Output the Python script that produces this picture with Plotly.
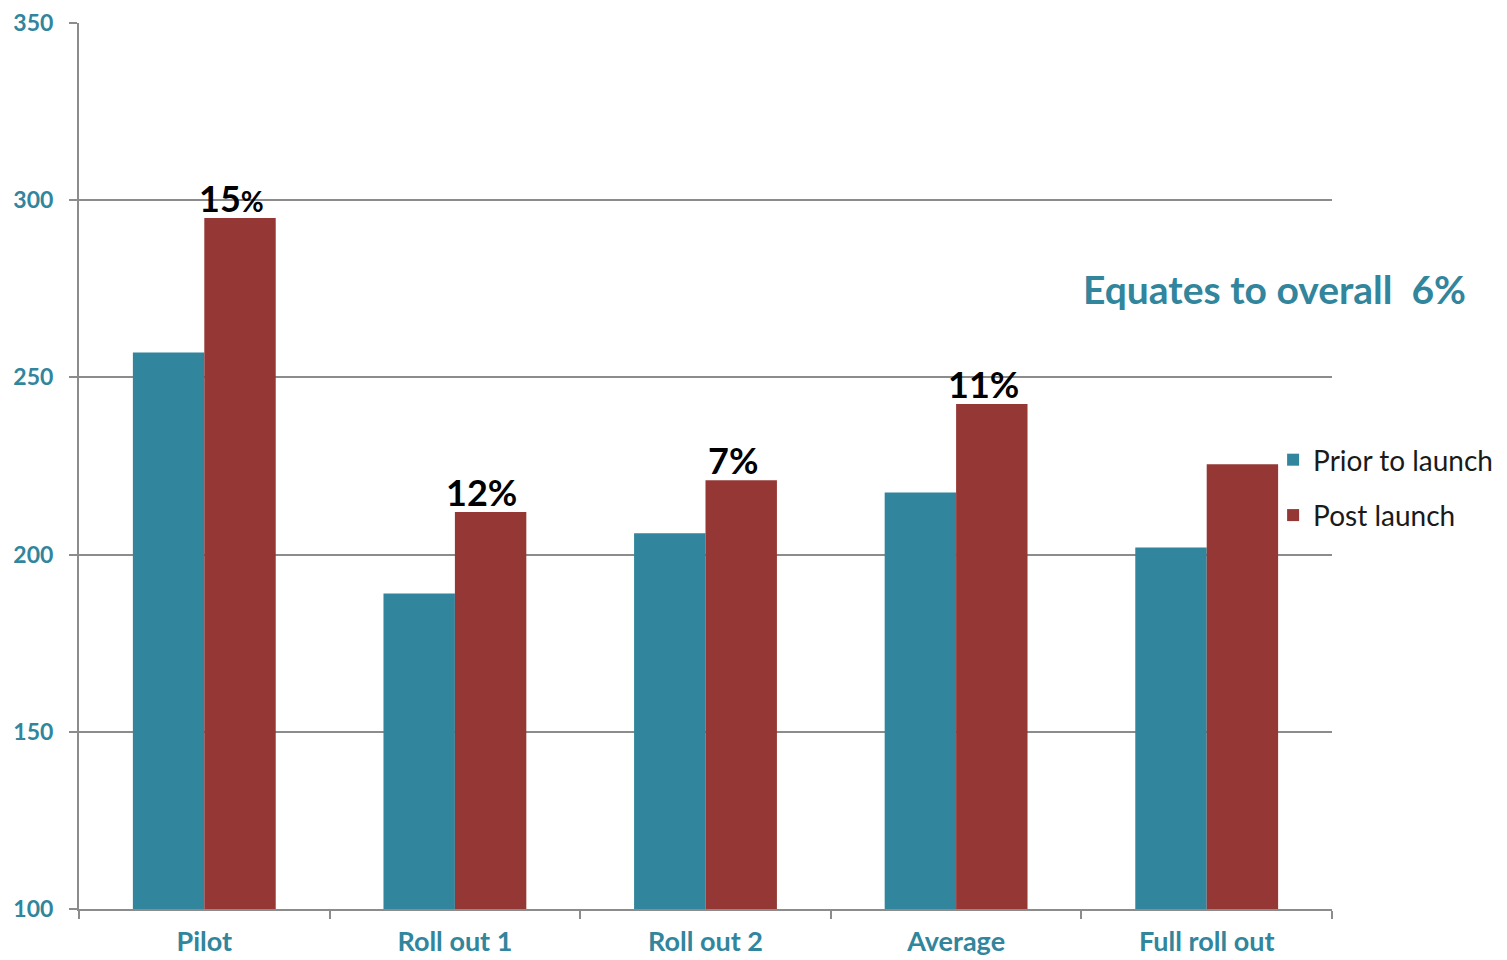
import plotly.graph_objects as go

categories = ["Pilot", "Roll out 1", "Roll out 2", "Average", "Full roll out"]
prior = [257, 189, 206, 217.5, 202]
post = [295, 212, 221, 242.5, 225.5]
pct_labels = ["15<span style='font-size:28px'>%</span>", "12%", "7%", "11%", None]
y_ticks = [100, 150, 200, 250, 300, 350]

TEAL = "#31859C"
RED = "#953735"
GRID = "#8C8C8C"
FONT = "Lato"

fig = go.Figure()
fig.add_trace(go.Bar(name="Prior to launch", x=categories, y=prior, marker_color=TEAL,
                     marker_line_width=0, legendgroup="a"))
fig.add_trace(go.Bar(name="Post launch", x=categories, y=post, marker_color=RED,
                     marker_line_width=0, legendgroup="b"))

for cat, v, lab in zip(categories, post, pct_labels):
    if lab:
        fig.add_annotation(x=cat, y=v, text=lab, showarrow=False,
                           xshift=27, yanchor="bottom", yshift=-4,
                           font=dict(family=FONT, size=36, color="black", weight="bold"))

fig.add_annotation(xref="paper", yref="paper", x=0.9545, y=0.70,
                   text="Equates to overall  6%", showarrow=False,
                   xanchor="center", yanchor="middle",
                   font=dict(family=FONT, size=39, color=TEAL, weight="bold"))

fig.update_layout(
    width=1499, height=952,
    margin=dict(l=71, r=175, t=15, b=51, autoexpand=False),
    barmode="group", bargap=0.43, bargroupgap=0,
    plot_bgcolor="white", paper_bgcolor="white",
    showlegend=True,
    legend=dict(x=0.953, xanchor="left", y=0.535, yanchor="top",
                font=dict(family=FONT, size=28, color="#1a1a1a"),
                tracegroupgap=16, itemwidth=30, bgcolor="rgba(0,0,0,0)"),
    font=dict(family=FONT),
)
fig.update_xaxes(
    type="category", showline=True, linecolor=GRID, linewidth=2,
    ticks="outside", tickson="boundaries", ticklen=8, tickcolor=GRID, tickwidth=2,
    showgrid=False, ticklabelstandoff=8,
    tickfont=dict(family=FONT, size=27, color=TEAL, weight="bold"),
)
fig.update_yaxes(
    range=[100, 350], tickvals=y_ticks, showline=True, linecolor=GRID, linewidth=2,
    ticks="outside", ticklen=8, tickcolor=GRID, tickwidth=2,
    showgrid=True, gridcolor=GRID, gridwidth=2, zeroline=False, ticklabelstandoff=11,
    tickfont=dict(family=FONT, size=23, color=TEAL, weight="bold"),
)

fig.write_html("out.html")
